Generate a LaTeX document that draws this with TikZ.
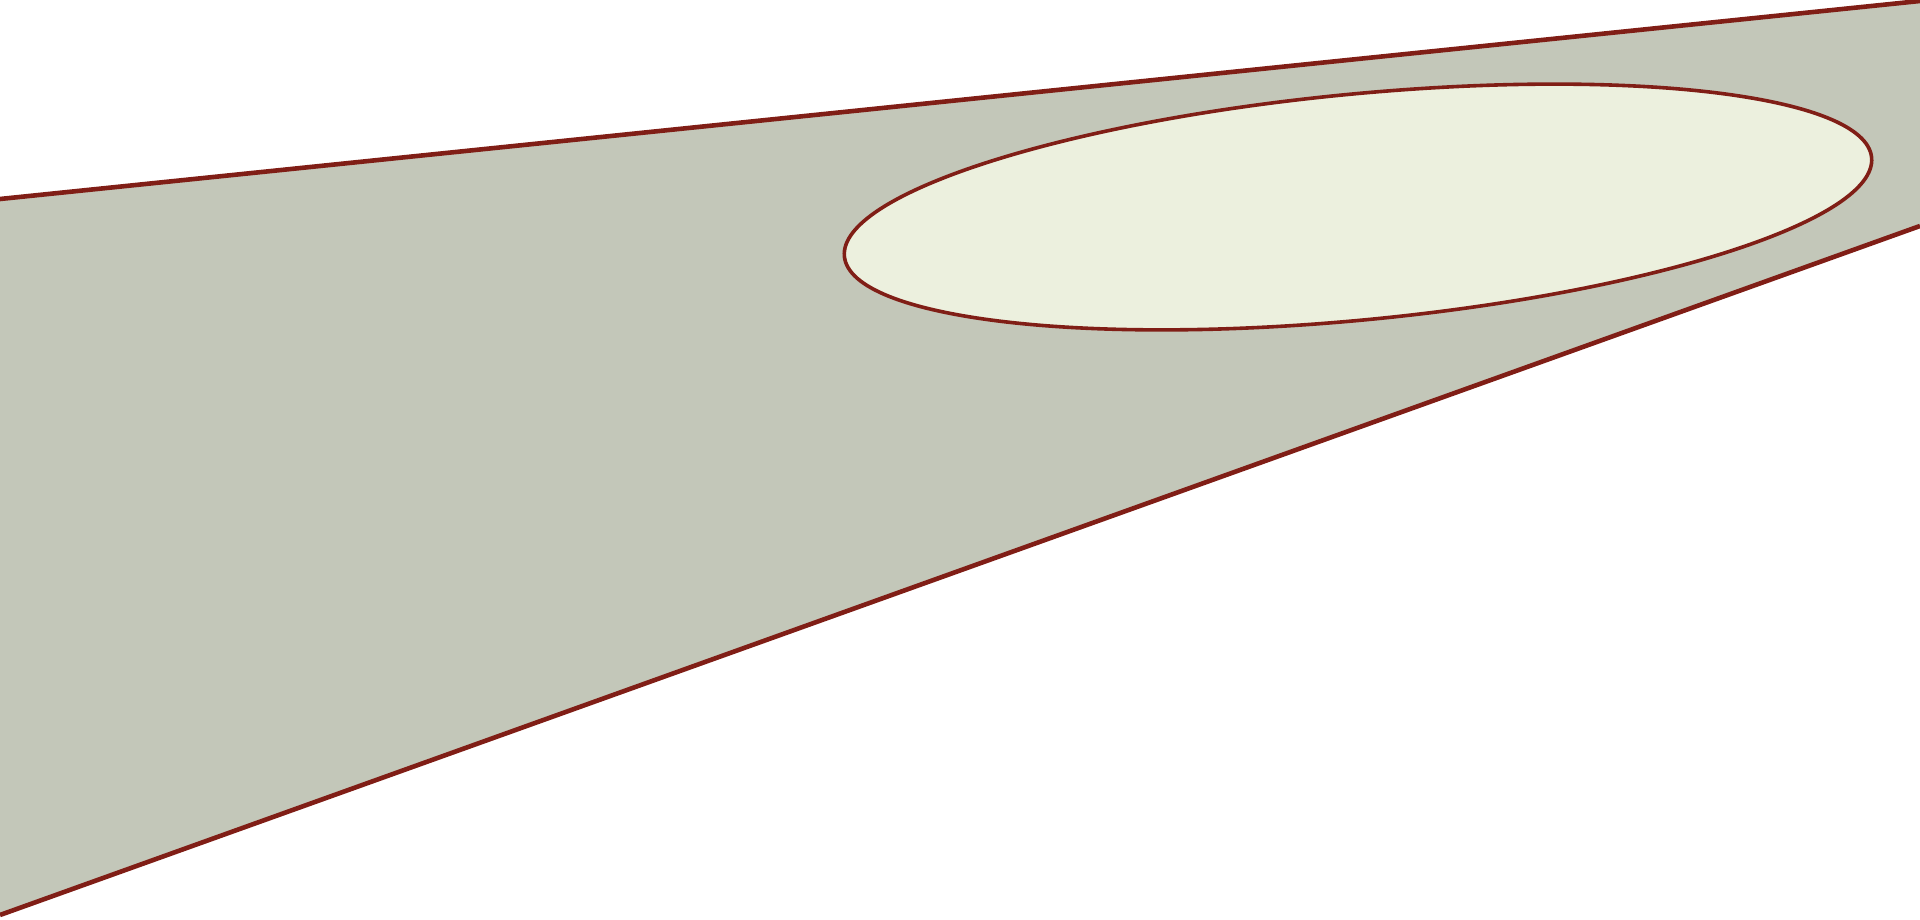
\documentclass[tikz,border=0pt]{standalone}
\definecolor{wedgefill}{RGB}{195,199,185}
\definecolor{discfill}{RGB}{236,240,222}
\definecolor{rimred}{RGB}{128,30,22}
\tikzset{every picture/.style={line width=0.75pt}}
\tikzset{rim/.style={draw=rimred,line width=1.15pt}}
\begin{document}
\begin{tikzpicture}[x=0.25pt,y=0.25pt,yscale=-1,xscale=1]
	\useasboundingbox (0,0) rectangle (1920,920);

	%Shape: Polygon [id:wedge]
	\fill [wedgefill] (0,199) -- (1920,1) -- (1920,226) -- (0,915) -- cycle ;
	%Straight Lines [id:upperedge]
	\draw [rim] (0,199) -- (1920,1) ;
	%Straight Lines [id:loweredge]
	\draw [rim] (0,915) -- (1920,226) ;
	%Shape: Ellipse [id:disc]
	\draw [rim,line width=0.9pt,fill=discfill,rotate around={-5.5:(1358,207)}] (1358,207) ellipse [x radius=516,y radius=113] ;

\end{tikzpicture}
\end{document}
